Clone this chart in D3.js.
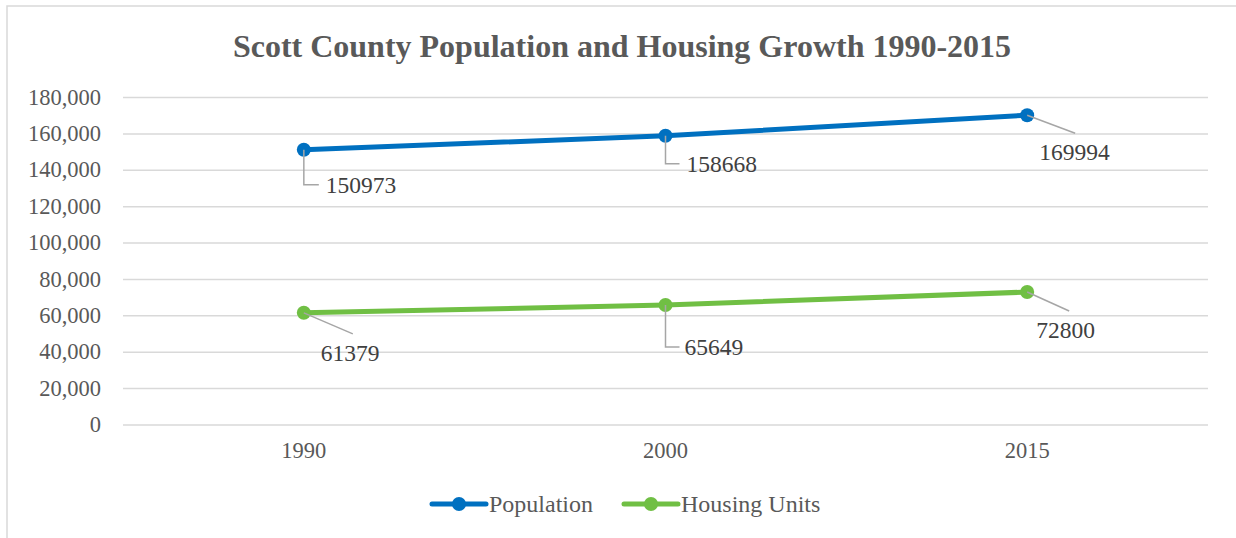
<!DOCTYPE html>
<html>
<head>
<meta charset="utf-8">
<script src="https://cdn.jsdelivr.net/npm/d3@7"></script>
<style>
  html, body { margin: 0; padding: 0; background: #fff; }
  svg { display: block; }
  text { font-family: "Liberation Serif", "Times New Roman", serif; }
</style>
</head>
<body>
<script>
// Census figures for Scott County
const years = ["1990", "2000", "2015"];
const population = [150973, 158668, 169994];
const housingUnits = [61379, 65649, 72800];
const yTicks = [0, 20000, 40000, 60000, 80000, 100000, 120000, 140000, 160000, 180000];
const seriesNames = ["Population", "Housing Units"];

const W = 1236, H = 538;
const margin = { left: 123, right: 28, top: 97, bottom: 113.5 };
const FONT = "'Liberation Serif', 'Times New Roman', serif";

const svg = d3.select("body").append("svg").attr("width", W).attr("height", H);

// chart frame
svg.append("rect")
  .attr("x", 7).attr("y", 6).attr("width", W + 10).attr("height", H + 10)
  .attr("fill", "#fff").attr("stroke", "#d9d9d9").attr("stroke-width", 1.5);

const x = d3.scaleBand().domain(years).range([margin.left, W - margin.right]);
const y = d3.scaleLinear().domain([0, 180000]).range([H - margin.bottom, margin.top]);
const cx = d => x(d) + x.bandwidth() / 2;

// title
svg.append("text")
  .attr("x", 622).attr("y", 57)
  .attr("text-anchor", "middle")
  .attr("font-family", FONT)
  .attr("font-size", 32).attr("font-weight", "bold")
  .attr("fill", "#595959")
  .text("Scott County Population and Housing Growth 1990-2015");

// gridlines + y labels
const yAxis = d3.axisLeft(y).tickValues(yTicks)
  .tickFormat(d => d === 0 ? "0" : d3.format(",")(d))
  .tickSize(-(W - margin.left - margin.right)).tickPadding(22);
const gy = svg.append("g").attr("transform", `translate(${margin.left},0)`).call(yAxis);
gy.select(".domain").remove();
gy.selectAll(".tick line").attr("stroke", "#d9d9d9").attr("stroke-width", 1.5);
gy.selectAll(".tick text").attr("font-size", 22.5).attr("fill", "#595959")
  .attr("font-family", FONT);

// x labels
const xAxis = d3.axisBottom(x).tickSize(0).tickPadding(18);
const gx = svg.append("g").attr("transform", `translate(0,${H - margin.bottom})`).call(xAxis);
gx.select(".domain").remove();
gx.selectAll(".tick text").attr("font-size", 22.5).attr("fill", "#595959")
  .attr("font-family", FONT);

const colors = ["#0070c0", "#70bf44"];
const series = [population, housingUnits];

const line = d3.line().x((d, i) => cx(years[i])).y(d => y(d));

series.forEach((vals, si) => {
  svg.append("path").datum(vals)
    .attr("d", line).attr("fill", "none")
    .attr("stroke", colors[si]).attr("stroke-width", 5)
    .attr("stroke-linecap", "round");
  svg.selectAll(null).data(vals).enter().append("circle")
    .attr("cx", (d, i) => cx(years[i])).attr("cy", d => y(d))
    .attr("r", 7).attr("fill", colors[si]);
});

// data labels with leader lines
// "elbow" = drop then right, "diag" = diagonal to lower right
const labelLayout = [
  [ { kind: "elbow", dy: 35, dx: 15, tx: 22 }, { kind: "elbow", dy: 28, dx: 14, tx: 21 }, { kind: "diag", dx: 48, dy: 18, tx: 12, ty: 37 } ],
  [ { kind: "diag", dx: 49, dy: 21, tx: 17, ty: 40 }, { kind: "elbow", dy: 42, dx: 14, tx: 19 }, { kind: "diag", dx: 42, dy: 19, tx: 9, ty: 38 } ]
];

series.forEach((vals, si) => {
  vals.forEach((v, i) => {
    const px = cx(years[i]), py = y(v);
    const L = labelLayout[si][i];
    let pts, tx, ty;
    if (L.kind === "elbow") {
      pts = [[px, py], [px, py + L.dy], [px + L.dx, py + L.dy]];
      tx = px + L.tx; ty = py + L.dy;
    } else {
      pts = [[px, py], [px + L.dx, py + L.dy]];
      tx = px + L.tx; ty = py + L.ty;
    }
    svg.append("path").attr("d", d3.line()(pts))
      .attr("fill", "none").attr("stroke", "#a6a6a6").attr("stroke-width", 1.5);
    svg.append("text").attr("x", tx).attr("y", ty)
      .attr("dominant-baseline", "central")
      .attr("font-family", FONT)
      .attr("font-size", 23.5).attr("fill", "#404040")
      .text(v);
  });
});

// legend
const legend = svg.append("g");
const legendItems = [
  { name: seriesNames[0], x0: 432, color: colors[0] },
  { name: seriesNames[1], x0: 624, color: colors[1] }
];
legendItems.forEach(it => {
  const g = legend.append("g").attr("transform", `translate(${it.x0},504)`);
  g.append("line").attr("x1", 0).attr("x2", 54).attr("y1", 0).attr("y2", 0)
    .attr("stroke", it.color).attr("stroke-width", 5).attr("stroke-linecap", "round");
  g.append("circle").attr("cx", 27).attr("cy", 0).attr("r", 7).attr("fill", it.color);
  g.append("text").attr("x", 57).attr("y", 0).attr("dominant-baseline", "central")
    .attr("font-family", FONT)
    .attr("font-size", 24).attr("fill", "#595959").text(it.name);
});
</script>
</body>
</html>
